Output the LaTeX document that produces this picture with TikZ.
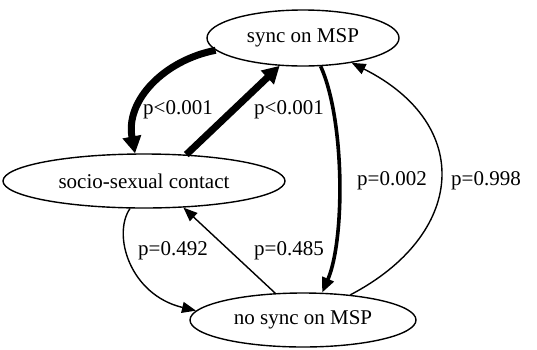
\documentclass[tikz,border=0pt]{standalone}
\usepackage{fontspec}
\setmainfont{Liberation Serif}
\usetikzlibrary{arrows.meta,shapes.geometric}
\begin{document}
\begin{tikzpicture}[x=1pt,y=-1pt,
  state/.style={ellipse,draw,line width=1.4pt,inner sep=0pt,font=\fontsize{21}{25}\selectfont},
  lbl/.style={font=\fontsize{21}{25}\selectfont,inner sep=0pt},
  edgethick/.style={line width=7pt,-{Triangle[length=17pt,width=18pt]}},
  edgemid/.style={line width=3.6pt,-{Triangle[length=15pt,width=12pt]}},
  edgethin/.style={line width=1.4pt,-{Triangle[length=14pt,width=11pt]}}
]
\useasboundingbox (0,0) rectangle (537,349);
\node[state,minimum width=192pt,minimum height=56pt] (sync) at (303,38) {sync on MSP};
\node[state,minimum width=282pt,minimum height=54pt] (socio) at (144,181) {socio-sexual contact};
\node[state,minimum width=226pt,minimum height=54pt] (nosync) at (303,320) {no sync on MSP};

\draw[edgethick] (sync.188) .. controls (165,60) and (125,100) .. (socio.108);
\draw[edgethick] (socio.32) -- (sync.230);
\draw[edgemid] (sync.302) .. controls (345,120) and (345,240) .. (nosync.55);
\draw[edgethin] (nosync.28) .. controls (465,235) and (475,125) .. (sync.333);
\draw[edgethin] (socio.243) .. controls (112,235) and (130,295) .. (nosync.175);
\draw[edgethin] (nosync.136) -- (socio.326);

\node[lbl] (l1) at (178,110) {p<0.001};
\node[lbl] (l2) at (289,110) {p<0.001};
\node[lbl] (l3) at (392,181) {p=0.002};
\node[lbl] (l4) at (486,181) {p=0.998};
\node[lbl] (l5) at (173,251) {p=0.492};
\node[lbl] (l6) at (289,251) {p=0.485};
\end{tikzpicture}
\end{document}
